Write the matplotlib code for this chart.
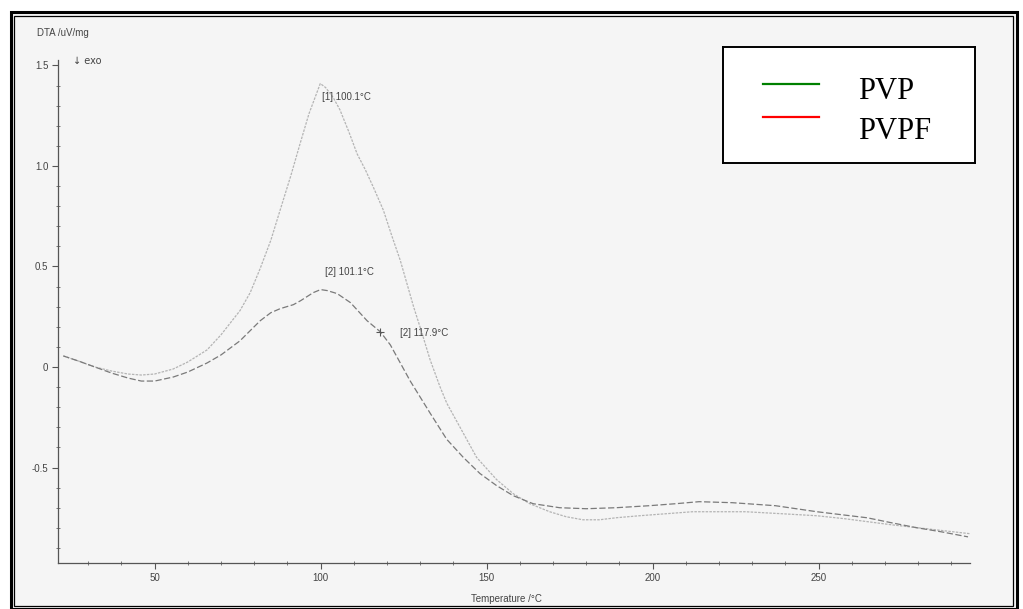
import matplotlib
matplotlib.use("Agg")
import matplotlib.pyplot as plt
from matplotlib.patches import Rectangle
from matplotlib.lines import Line2D
from matplotlib.ticker import FixedLocator, FixedFormatter, MultipleLocator
import numpy as np

# curve with the big peak (light grey)
temp_a = [22.5, 27, 32, 37, 42, 46, 50, 55.6, 60, 65.8, 70, 75.7, 78.8, 81.8, 85, 87.8,
          91, 93.8, 96.5, 99.9, 101.5, 103.8, 105.8, 108.5, 111, 113.5, 116, 118.9, 121.5,
          124, 128, 130.5, 133, 136, 138, 142, 147, 153, 158, 163, 169, 174, 179, 184, 189,
          196, 204, 212, 219, 228, 239, 249.5, 258, 265, 272, 280, 288, 296]
dta_a = [0.055, 0.03, 0.0, -0.02, -0.035, -0.04, -0.035, -0.01, 0.025, 0.085, 0.16, 0.28,
         0.37, 0.49, 0.63, 0.78, 0.95, 1.11, 1.26, 1.41, 1.39, 1.34, 1.28, 1.17, 1.06, 0.98,
         0.89, 0.78, 0.65, 0.53, 0.30, 0.17, 0.035, -0.1, -0.18, -0.30, -0.45, -0.56, -0.63,
         -0.68, -0.72, -0.745, -0.76, -0.76, -0.75, -0.74, -0.73, -0.72, -0.72, -0.72, -0.73,
         -0.74, -0.755, -0.77, -0.785, -0.80, -0.815, -0.83]

# curve with the small peak (darker grey, dashed)
temp_b = [22.5, 27, 32, 37, 42, 46, 50, 55.6, 60, 65.8, 70, 75.7, 81.8, 85, 87.8, 91.8, 94,
          97.8, 100, 102, 105, 109, 114, 118, 121, 124, 127, 130, 133, 138, 143, 148, 153,
          158, 164, 172, 180, 189, 199, 207, 214, 224, 237, 249.5, 257, 264.6, 272, 279.7,
          287, 295]
dta_b = [0.055, 0.03, 0.0, -0.03, -0.055, -0.07, -0.07, -0.05, -0.025, 0.02, 0.06, 0.13,
         0.23, 0.27, 0.29, 0.31, 0.33, 0.37, 0.385, 0.38, 0.365, 0.32, 0.23, 0.175, 0.11,
         0.02, -0.07, -0.15, -0.23, -0.36, -0.45, -0.53, -0.59, -0.64, -0.68, -0.70,
         -0.705, -0.70, -0.69, -0.68, -0.67, -0.675, -0.69, -0.72, -0.735, -0.75, -0.775,
         -0.80, -0.82, -0.845]

y_ticks = [-0.5, 0, 0.5, 1.0, 1.5]
y_labels = ['-0.5', '0', '0.5', '1.0', '1.5']
x_ticks = [50, 100, 150, 200, 250]
legend_names = ['PVP', 'PVPF']
legend_colors = ['#008000', '#ff0000']

W, H = 1023, 609
fig = plt.figure(figsize=(W / 100, H / 100), dpi=100, facecolor='white')

# scanned page background + double frame
fig.add_artist(Rectangle((10.5 / W, 1 - 608.5 / H), 1006 / W, 596.5 / H, transform=fig.transFigure,
                         facecolor='#f5f5f5', edgecolor='black', lw=2.2, zorder=0))
fig.add_artist(Rectangle((14 / W, 1 - 605.5 / H), 999 / W, 590 / H, transform=fig.transFigure,
                         facecolor='none', edgecolor='black', lw=0.9, zorder=0))

ax = fig.add_axes([58 / W, 1 - 563 / H, (970 - 58) / W, (563 - 60) / H])
ax.set_facecolor('none')
ax.plot(temp_a, dta_a, color='#b4b4b4', lw=0.9, ls=(0, (2, 1)))
ax.plot(temp_b, dta_b, color='#7a7a7a', lw=0.9, ls=(0, (5, 2)))

ax.set_xlim(20.9, 295.6)
ax.set_ylim(-0.975, 1.527)
for s in ['top', 'right']:
    ax.spines[s].set_visible(False)
for s in ['left', 'bottom']:
    ax.spines[s].set_color('#555555')
    ax.spines[s].set_linewidth(0.9)

ax.yaxis.set_major_locator(FixedLocator(y_ticks))
ax.yaxis.set_major_formatter(FixedFormatter(y_labels))
ax.yaxis.set_minor_locator(MultipleLocator(0.1))
ax.xaxis.set_major_locator(FixedLocator(x_ticks))
ax.xaxis.set_minor_locator(MultipleLocator(10))
ax.tick_params(which='major', direction='out', length=4, width=0.8, color='#555555',
               labelsize=7, labelcolor='#444444', pad=3)
ax.tick_params(which='minor', direction='inout', length=3, width=0.7, color='#777777')
for lab in ax.get_xticklabels() + ax.get_yticklabels():
    lab.set_family('Liberation Sans')

# peak annotations
tf = dict(fontsize=7, color='#444444', family='Liberation Sans', va='center')
ax.text(100.4, 1.343, '[1] 100.1°C', **tf)
ax.text(101.3, 0.47, '[2] 101.1°C', **tf)
ax.plot([117.9], [np.interp(117.9, temp_b, dta_b)], marker='+', color='#555555', ms=6, mew=0.8)
ax.text(124, 0.17, '[2] 117.9°C', **tf)

fig.text(37 / W, 1 - 33 / H, 'DTA /uV/mg', fontsize=7, color='#444444',
         family='Liberation Sans', va='center')
fig.text(73 / W, 1 - 61 / H, '↓ exo', fontsize=7, color='#444444',
         family='DejaVu Sans', va='center')
fig.text(506 / W, 1 - 599 / H, 'Temperature /°C', fontsize=7, color='#444444',
         family='Liberation Sans', ha='center', va='center')

# legend box
lax = fig.add_axes([723 / W, 1 - 163 / H, 252 / W, 116 / H])
lax.set_facecolor('white')
lax.set_xticks([])
lax.set_yticks([])
for s in lax.spines.values():
    s.set_linewidth(1.4)
    s.set_color('black')
lax.set_xlim(0, 1)
lax.set_ylim(0, 1)
for name, col, ly, ty in zip(legend_names, legend_colors, [0.681, 0.397], [0.552, 0.207]):
    lax.add_line(Line2D([0.159, 0.381], [ly, ly], color=col, lw=1.6))
    lax.text(0.536, ty, name, fontsize=22, family='Liberation Serif', color='black',
             va='baseline')

fig.savefig('out.png', dpi=100, facecolor='white')
